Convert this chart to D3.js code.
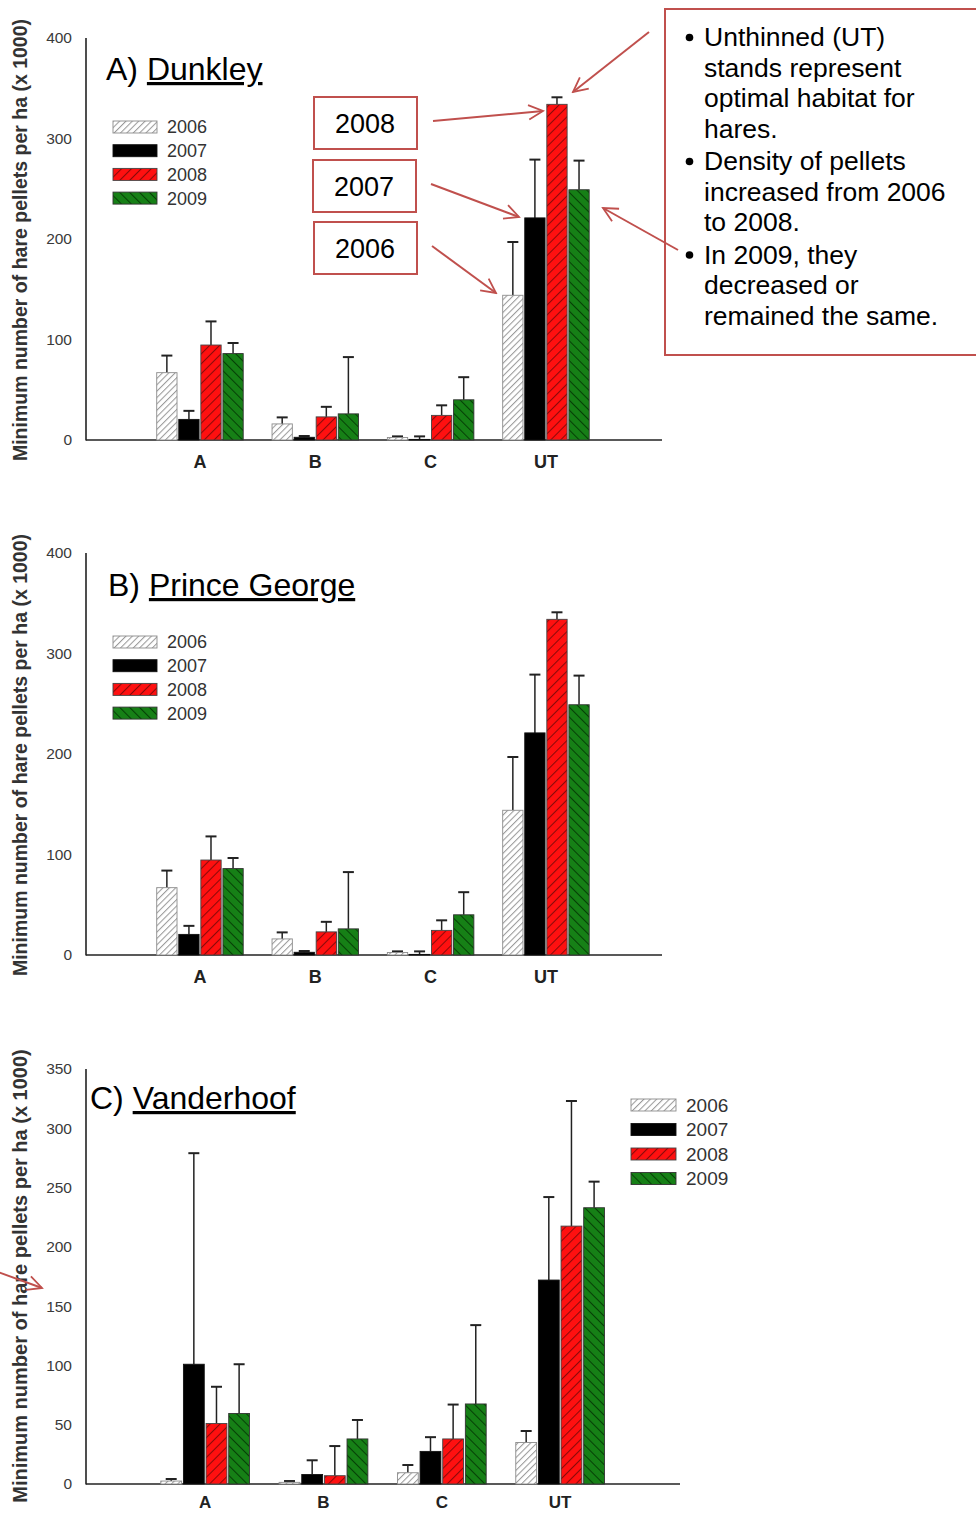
<!DOCTYPE html>
<html>
<head>
<meta charset="utf-8">
<script src="https://cdn.jsdelivr.net/npm/d3@7"></script>
<style>
  html, body { margin: 0; padding: 0; background: #fff; }
  svg { display: block; font-family: "Liberation Sans", Arial, sans-serif; }
</style>
</head>
<body>
<svg id="chart" width="976" height="1514"></svg>
<script>
// ---------------- DATA ----------------
const categories = ["A", "B", "C", "UT"];
const years = ["2006", "2007", "2008", "2009"];

// A) Dunkley — bar means and upper error-bar ends
const dunkley2006 = [67, 16, 2.5, 144];
const dunkley2007 = [20.5, 2.7, 0.6, 221];
const dunkley2008 = [94.5, 23, 24.5, 334];
const dunkley2009 = [86, 26, 40, 249];
const dunkleyErr2006 = [84, 22.5, 3.6, 197];
const dunkleyErr2007 = [29, 4, 3.6, 279];
const dunkleyErr2008 = [118, 33, 34.5, 341];
const dunkleyErr2009 = [96.5, 82.5, 62.5, 278];

// B) Prince George
const princeGeorge2006 = [67, 16, 2.5, 144];
const princeGeorge2007 = [20.5, 2.7, 0.6, 221];
const princeGeorge2008 = [94.5, 23, 24.5, 334];
const princeGeorge2009 = [86, 26, 40, 249];
const princeGeorgeErr2006 = [84, 22.5, 3.6, 197];
const princeGeorgeErr2007 = [29, 4, 3.6, 279];
const princeGeorgeErr2008 = [118, 33, 34.5, 341];
const princeGeorgeErr2009 = [96.5, 82.5, 62.5, 278];

// C) Vanderhoof
const vanderhoof2006 = [2.5, 1.4, 9.5, 35];
const vanderhoof2007 = [101, 8, 27.5, 172];
const vanderhoof2008 = [51, 7, 38, 217.5];
const vanderhoof2009 = [59.5, 38, 67.5, 233];
const vanderhoofErr2006 = [4.2, 2.5, 16, 44.7];
const vanderhoofErr2007 = [279, 20, 39.5, 242];
const vanderhoofErr2008 = [82, 32, 67, 323];
const vanderhoofErr2009 = [101, 54, 134, 255];

const yTicksAB = [0, 100, 200, 300, 400];
const yTicksC = [0, 50, 100, 150, 200, 250, 300, 350];

const yLabel = "Minimum number of hare pellets per ha (x 1000)";

const calloutBoxes = ["2008", "2007", "2006"];
const noteBullets = [
  ["Unthinned (UT)", "stands represent", "optimal habitat for", "hares."],
  ["Density of pellets", "increased from 2006", "to 2008."],
  ["In 2009, they", "decreased or", "remained the same."]
];

// ---------------- DRAWING ----------------
const svg = d3.select("#chart");
const defs = svg.append("defs");
const RED = "#c0504d";

function hatch(id, bg, stroke, spacing, angle, sw) {
  const p = defs.append("pattern")
    .attr("id", id)
    .attr("patternUnits", "userSpaceOnUse")
    .attr("width", spacing).attr("height", spacing)
    .attr("patternTransform", `rotate(${angle})`);
  p.append("rect").attr("width", spacing).attr("height", spacing).attr("fill", bg);
  p.append("line").attr("x1", 0.5).attr("y1", 0).attr("x2", 0.5).attr("y2", spacing)
    .attr("stroke", stroke).attr("stroke-width", sw);
}
hatch("p2006", "#ffffff", "#9a9a9a", 4.5, 45, 1.1);
hatch("p2008", "#ff1010", "#8a0a0a", 7, 45, 1.1);
hatch("p2009", "#168016", "#064006", 7, -45, 1.1);

const fills = { "2006": "url(#p2006)", "2007": "#000000", "2008": "url(#p2008)", "2009": "url(#p2009)" };
const strokes = { "2006": "#8c8c8c", "2007": "#111", "2008": "#444", "2009": "#333" };

// arrow marker (open V)
defs.append("marker")
  .attr("id", "arrowV")
  .attr("viewBox", "0 0 20 20")
  .attr("refX", 18).attr("refY", 10)
  .attr("markerWidth", 18).attr("markerHeight", 18)
  .attr("markerUnits", "userSpaceOnUse")
  .attr("orient", "auto")
  .append("path")
  .attr("d", "M2,2 L18,10 L2,18")
  .attr("fill", "none").attr("stroke", RED).attr("stroke-width", 2);

function drawPanel(cfg) {
  const g = svg.append("g");
  const y = d3.scaleLinear().domain(cfg.yDomain).range([cfg.y0, cfg.yTop]);
  const x = d3.scaleBand().domain(categories).range(cfg.xRange)
    .paddingInner(0.25).paddingOuter(0.125);
  const xi = d3.scaleBand().domain(years).range([0, x.bandwidth()]).paddingInner(0.08);

  // axes lines
  g.append("line").attr("x1", cfg.axisX).attr("x2", cfg.axisX)
    .attr("y1", y(cfg.yDomain[1])).attr("y2", cfg.y0 + 0.5)
    .attr("stroke", "#222").attr("stroke-width", 1.6);
  g.append("line").attr("x1", cfg.axisX).attr("x2", cfg.axisEnd)
    .attr("y1", cfg.y0).attr("y2", cfg.y0)
    .attr("stroke", "#222").attr("stroke-width", 1.6);

  // y tick labels
  g.selectAll(".ytick").data(cfg.ticks).enter().append("text")
    .attr("x", cfg.axisX - 14).attr("y", d => y(d))
    .attr("dy", "0.35em").attr("text-anchor", "end")
    .attr("font-size", 15.5).attr("fill", "#3a3a3a")
    .text(d => d);

  // x category labels
  g.selectAll(".xlab").data(categories).enter().append("text")
    .attr("x", d => x(d) + x.bandwidth() / 2).attr("y", cfg.y0 + cfg.xLabOff)
    .attr("text-anchor", "middle").attr("font-size", cfg.xLabSize).attr("font-weight", "bold")
    .attr("fill", "#222").text(d => d);

  // y axis title
  g.append("text")
    .attr("transform", `translate(${cfg.labelX},${cfg.labelY}) rotate(-90)`)
    .attr("text-anchor", "middle").attr("font-size", cfg.labelSize).attr("font-weight", "bold")
    .attr("fill", "#333").text(yLabel);

  // bars
  const rows = [];
  years.forEach((yr, k) => {
    categories.forEach((c, i) => {
      rows.push({ yr, c, v: cfg.means[k][i], e: cfg.errs[k][i] });
    });
  });
  // error bars (behind bars)
  const eg = g.append("g");
  rows.forEach(r => {
    const cx = x(r.c) + xi(r.yr) + xi.bandwidth() / 2;
    eg.append("line").attr("x1", cx).attr("x2", cx)
      .attr("y1", y(r.v)).attr("y2", y(r.e))
      .attr("stroke", "#222").attr("stroke-width", 1.5);
    eg.append("line").attr("x1", cx - 5.5).attr("x2", cx + 5.5)
      .attr("y1", y(r.e)).attr("y2", y(r.e))
      .attr("stroke", "#222").attr("stroke-width", 2);
  });
  g.append("g").selectAll("rect").data(rows).enter().append("rect")
    .attr("x", d => x(d.c) + xi(d.yr))
    .attr("width", xi.bandwidth())
    .attr("y", d => y(d.v))
    .attr("height", d => cfg.y0 - y(d.v))
    .attr("fill", d => fills[d.yr])
    .attr("stroke", d => strokes[d.yr]).attr("stroke-width", 0.9);

  // title
  const t = g.append("text").attr("x", cfg.titleX).attr("y", cfg.titleY)
    .attr("font-size", 32).attr("fill", "#000");
  t.append("tspan").text(cfg.titlePrefix + " ");
  t.append("tspan").attr("text-decoration", "underline").text(cfg.titleName);

  // legend
  const lg = g.append("g").attr("transform", `translate(${cfg.legX},${cfg.legY})`);
  years.forEach((yr, k) => {
    lg.append("rect").attr("x", 0).attr("y", k * cfg.legStep - 6)
      .attr("width", cfg.legW).attr("height", 12)
      .attr("fill", fills[yr]).attr("stroke", strokes[yr]).attr("stroke-width", 0.9);
    lg.append("text").attr("x", cfg.legW + 10).attr("y", k * cfg.legStep)
      .attr("dy", "0.36em").attr("font-size", cfg.legFont).attr("fill", "#333").text(yr);
  });
}

drawPanel({
  means: [dunkley2006, dunkley2007, dunkley2008, dunkley2009],
  errs: [dunkleyErr2006, dunkleyErr2007, dunkleyErr2008, dunkleyErr2009],
  yDomain: [0, 400], ticks: yTicksAB, y0: 440, yTop: 38,
  xRange: [142.3, 603.6], axisX: 86, axisEnd: 662, xLabOff: 28, xLabSize: 18,
  labelX: 27, labelY: 240, labelSize: 19.5,
  titlePrefix: "A)", titleName: "Dunkley", titleX: 106, titleY: 80,
  legX: 113, legY: 127, legStep: 23.7, legW: 44, legFont: 18
});

drawPanel({
  means: [princeGeorge2006, princeGeorge2007, princeGeorge2008, princeGeorge2009],
  errs: [princeGeorgeErr2006, princeGeorgeErr2007, princeGeorgeErr2008, princeGeorgeErr2009],
  yDomain: [0, 400], ticks: yTicksAB, y0: 955, yTop: 553,
  xRange: [142.3, 603.6], axisX: 86, axisEnd: 662, xLabOff: 28, xLabSize: 18,
  labelX: 27, labelY: 755, labelSize: 19.5,
  titlePrefix: "B)", titleName: "Prince George", titleX: 108, titleY: 596,
  legX: 113, legY: 642, legStep: 23.7, legW: 44, legFont: 18
});

drawPanel({
  means: [vanderhoof2006, vanderhoof2007, vanderhoof2008, vanderhoof2009],
  errs: [vanderhoofErr2006, vanderhoofErr2007, vanderhoofErr2008, vanderhoofErr2009],
  yDomain: [0, 350], ticks: yTicksC, y0: 1484, yTop: 1069,
  xRange: [146, 619.3], axisX: 86, axisEnd: 680, xLabOff: 24, xLabSize: 17,
  labelX: 27, labelY: 1276, labelSize: 20,
  titlePrefix: "C)", titleName: "Vanderhoof", titleX: 90, titleY: 1109,
  legX: 631, legY: 1105, legStep: 24.5, legW: 45, legFont: 19
});

// ---------------- ANNOTATIONS ----------------
const ann = svg.append("g");
const boxY = [97, 160, 222];
const boxX = [314, 313, 314];
calloutBoxes.forEach((lab, i) => {
  ann.append("rect").attr("x", boxX[i]).attr("y", boxY[i])
    .attr("width", 103).attr("height", 52)
    .attr("fill", "#fff").attr("stroke", RED).attr("stroke-width", 2);
  ann.append("text").attr("x", boxX[i] + 51).attr("y", boxY[i] + 26)
    .attr("dy", "0.36em").attr("text-anchor", "middle")
    .attr("font-size", 27).attr("fill", "#000").text(lab);
});

ann.append("rect").attr("x", 665).attr("y", 9).attr("width", 330).attr("height", 346)
  .attr("fill", "#fff").attr("stroke", RED).attr("stroke-width", 2);

let ly = 46;
noteBullets.forEach((lines, b) => {
  ann.append("circle").attr("cx", 689.5).attr("cy", ly - 8.5).attr("r", 3.8).attr("fill", "#000");
  lines.forEach((ln, j) => {
    ann.append("text").attr("x", 704).attr("y", ly)
      .attr("font-size", 26.5).attr("fill", "#000").text(ln);
    ly += 30.5;
  });
  ly += 2;
});

const arrows = [
  [433, 121, 543, 111],
  [431, 184, 519, 217],
  [432, 246, 496, 293],
  [649, 32, 573, 92],
  [678, 250, 603, 208],
  [-2, 1272, 42, 1288]
];
arrows.forEach(a => {
  ann.append("line").attr("x1", a[0]).attr("y1", a[1]).attr("x2", a[2]).attr("y2", a[3])
    .attr("stroke", RED).attr("stroke-width", 2).attr("marker-end", "url(#arrowV)");
});
</script>
</body>
</html>
